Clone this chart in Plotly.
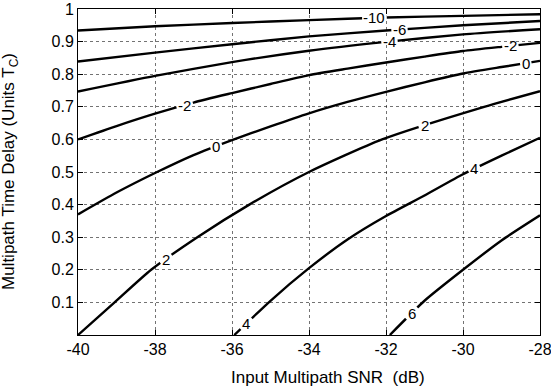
import numpy as np
import plotly.graph_objects as go

# ---- data (x: Input Multipath SNR dB, y: delay in Tc) ----
snr_m10 = [-40, -38, -36, -34, -32, -30, -28]
delay_m10 = [0.934, 0.947, 0.957, 0.966, 0.974, 0.979, 0.984]

snr_m6 = [-40, -38, -36, -34, -32, -30, -28]
delay_m6 = [0.839, 0.866, 0.892, 0.916, 0.934, 0.950, 0.963]

snr_m4 = [-40, -38, -36, -34, -32, -30, -28]
delay_m4 = [0.747, 0.795, 0.837, 0.872, 0.899, 0.922, 0.938]

snr_m2 = [-40, -39, -38, -37, -36, -35, -34, -33, -32, -31, -30, -29, -28]
delay_m2 = [0.600, 0.641, 0.679, 0.713, 0.742, 0.770, 0.797, 0.817, 0.836, 0.854, 0.871, 0.884, 0.896]

snr_0 = [-40, -39, -38, -37, -36, -35, -34, -33, -32, -31, -30, -29, -28]
delay_0 = [0.370, 0.437, 0.497, 0.552, 0.598, 0.640, 0.680, 0.715, 0.746, 0.775, 0.802, 0.822, 0.841]

snr_p2 = [-40, -39.05, -38.1, -36.9, -35.55, -34.0, -32.1, -29.45, -28]
delay_p2 = [0.0, 0.1, 0.2, 0.3, 0.4, 0.5, 0.6, 0.7, 0.748]

snr_p4 = [-35.94, -35, -34, -33, -32, -31, -30, -29, -28]
delay_p4 = [0.0, 0.105, 0.205, 0.293, 0.365, 0.428, 0.493, 0.550, 0.605]

snr_p6 = [-31.9, -31.0, -30.0, -29.0, -28]
delay_p6 = [0.0, 0.105, 0.200, 0.290, 0.367]

levels = ["-10", "-6", "-4", "-2", "0", "2", "4", "6"]
curves = {
    "-10": (snr_m10, delay_m10),
    "-6": (snr_m6, delay_m6),
    "-4": (snr_m4, delay_m4),
    "-2": (snr_m2, delay_m2),
    "0": (snr_0, delay_0),
    "2": (snr_p2, delay_p2),
    "4": (snr_p4, delay_p4),
    "6": (snr_p6, delay_p6),
}

# contour labels: level text and x position along the curve
label_levels = ["-10", "-6", "-4", "-2", "0", "-2", "0", "2", "2", "4", "4", "6"]
label_snr = [-32.30, -31.65, -31.91, -28.77, -28.37, -37.23, -36.41, -37.71, -31.0, -35.63, -29.71, -31.33]

x_ticks = [-40, -38, -36, -34, -32, -30, -28]
x_ticktext = ["-40", "-38", "-36", "-34", "-32", "-30", "-28"]
y_ticks = [0.1, 0.2, 0.3, 0.4, 0.5, 0.6, 0.7, 0.8, 0.9, 1.0]
y_ticktext = ["0.1", "0.2", "0.3", "0.4", "0.5", "0.6", "0.7", "0.8", "0.9", "1"]

FONT = "Arial, 'Liberation Sans', Helvetica, sans-serif"
W, H = 551, 390
ML, MR, MT, MB = 78, 11, 9, 55
pw, ph = W - ML - MR, H - MT - MB
px_per_x = pw / 12.0
px_per_y = ph / 1.0

fig = go.Figure()

for lev in levels:
    cx, cy = curves[lev]
    fig.add_trace(go.Scatter(x=cx, y=cy, mode="lines",
                             line=dict(color="black", width=2.4, shape="spline", smoothing=0.6),
                             hoverinfo="skip", showlegend=False))

# white gaps under labels, then labels
lab_font = 15
for txt, lx in zip(label_levels, label_snr):
    cx, cy = curves[txt]
    cx = np.array(cx, float); cy = np.array(cy, float)
    ly = float(np.interp(lx, cx, cy))
    dx = 0.05
    slope = (np.interp(lx + dx, cx, cy) - np.interp(lx - dx, cx, cy)) / (2 * dx)
    s_px = abs(slope) * px_per_y / px_per_x
    tw = sum(5.0 if ch == "-" else 8.34 for ch in txt)
    a = tw / 2 + 1.5
    b = lab_font * 0.42
    hw_px = a if s_px < 1e-6 else min(a, b / s_px)
    hw = hw_px / px_per_x
    mx = np.linspace(lx - hw, lx + hw, 12)
    my = np.interp(mx, cx, cy)
    fig.add_trace(go.Scatter(x=mx, y=my, mode="lines",
                             line=dict(color="white", width=6),
                             hoverinfo="skip", showlegend=False))
    fig.add_annotation(x=lx, y=ly, text=txt, showarrow=False,
                       font=dict(family=FONT, size=lab_font, color="black"),
                       xanchor="center", yanchor="middle")

axis_common = dict(showline=True, linecolor="black", linewidth=1, mirror="ticks",
                   ticks="inside", ticklen=5, tickcolor="black",
                   showgrid=True, gridcolor="rgba(0,0,0,0.55)", griddash="dot", gridwidth=1,
                   zeroline=False, automargin=False, ticklabeloverflow="allow",
                   tickfont=dict(family=FONT, size=16, color="black"))

fig.update_xaxes(range=[-40, -28], tickvals=x_ticks, ticktext=x_ticktext, **axis_common)
fig.update_yaxes(range=[0, 1], tickvals=y_ticks, ticktext=y_ticktext, **axis_common)

fig.add_annotation(xref="paper", yref="paper", x=(328 - ML) / pw, y=(0 - 42) / ph,
                   text="Input Multipath SNR  (dB)", showarrow=False,
                   font=dict(family=FONT, size=17, color="black"),
                   xanchor="center", yanchor="middle")
fig.add_annotation(xref="paper", yref="paper", x=(10 - ML) / pw, y=0.5,
                   text="Multipath Time Delay (Units T<sub>C</sub>)", showarrow=False,
                   textangle=-90,
                   font=dict(family=FONT, size=17, color="black"),
                   xanchor="center", yanchor="middle")

fig.update_layout(width=W, height=H, margin=dict(l=ML, r=MR, t=MT, b=MB, autoexpand=False),
                  paper_bgcolor="white", plot_bgcolor="white", showlegend=False)

fig.write_html("out.html", config={"displayModeBar": False},
               post_script=("document.documentElement.style.margin='0';"
                            "document.documentElement.style.overflow='hidden';"
                            "document.body.style.margin='0';"
                            "document.body.style.overflow='hidden';"))
